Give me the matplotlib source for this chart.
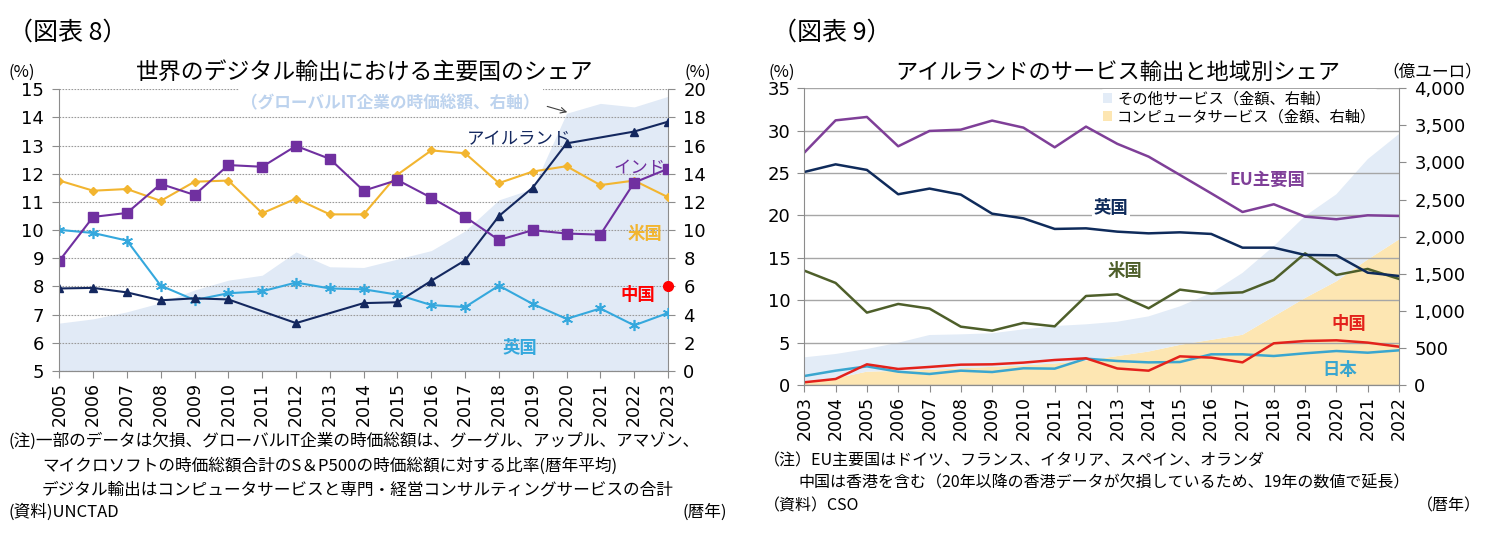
import numpy as np
import matplotlib
matplotlib.use('Agg')
import matplotlib.pyplot as plt
from matplotlib.patches import Patch, Rectangle
from matplotlib.ticker import FuncFormatter

plt.rcParams['font.family'] = ['Noto Sans CJK JP', 'DejaVu Sans']

# ---- 図表8 data (share of world digital exports, %) ----
years8 = [2005, 2006, 2007, 2008, 2009, 2010, 2011, 2012, 2013, 2014,
          2015, 2016, 2017, 2018, 2019, 2020, 2021, 2022, 2023]
india = [8.91, 10.47, 10.61, 11.64, 11.25, 12.31, 12.25, 12.99, 12.53, 11.40,
         11.78, 11.15, 10.47, 9.65, 10.00, 9.88, 9.84, 11.69, 12.18]
usa = [11.76, 11.40, 11.46, 11.04, 11.72, 11.76, 10.60, 11.12, 10.56, 10.56,
       11.97, 12.83, 12.73, 11.67, 12.08, 12.27, 11.60, 11.76, 11.17]
uk = [10.01, 9.90, 9.63, 8.03, 7.52, 7.76, 7.83, 8.14, 7.93, 7.90,
      7.71, 7.34, 7.27, 8.03, 7.38, 6.85, 7.22, 6.62, 7.06]
ireland = [7.93, 7.95, 7.79, 7.51, 7.58, 7.54, np.nan, 6.70, np.nan, 7.41,
           7.44, 8.20, 8.93, 10.50, 11.51, 13.08, np.nan, 13.50, 13.85]
china_year = [2023]
china = [8.03]
# global IT market cap ratio (right axis)
it_cap = [3.4, 3.7, 4.2, 4.85, 5.75, 6.45, 6.8, 8.45, 7.4, 7.35,
          7.95, 8.55, 9.95, 12.15, 12.95, 18.3, 19.0, 18.75, 19.5]

# ---- 図表9 data (Ireland services exports) ----
years9 = [2003, 2004, 2005, 2006, 2007, 2008, 2009, 2010, 2011, 2012,
          2013, 2014, 2015, 2016, 2017, 2018, 2019, 2020, 2021, 2022]
eu = [27.41, 31.22, 31.62, 28.16, 29.97, 30.12, 31.19, 30.36, 28.04, 30.48,
      28.45, 26.94, 24.78, 22.61, 20.41, 21.32, 19.86, 19.55, 20.02, 19.94]
uk9 = [25.13, 26.03, 25.37, 22.50, 23.17, 22.46, 20.21, 19.66, 18.41, 18.48,
       18.09, 17.89, 18.01, 17.82, 16.20, 16.20, 15.34, 15.30, 13.25, 12.86]
us9 = [13.49, 12.04, 8.54, 9.56, 9.01, 6.88, 6.41, 7.32, 6.92, 10.50,
       10.70, 9.05, 11.25, 10.78, 10.93, 12.39, 15.53, 12.98, 13.69, 12.51]
cn9 = [0.32, 0.71, 2.44, 1.89, 2.13, 2.40, 2.44, 2.64, 2.95, 3.15,
       1.95, 1.69, 3.38, 3.23, 2.67, 4.92, 5.19, 5.27, 5.00, 4.52]
jp9 = [1.06, 1.69, 2.20, 1.57, 1.30, 1.69, 1.53, 1.97, 1.93, 3.11,
       2.83, 2.67, 2.71, 3.62, 3.62, 3.42, 3.74, 4.01, 3.81, 4.09]
# amounts (億ユーロ, right axis)
computer = [50, 90, 180, 190, 205, 225, 245, 265, 290, 330,
            390, 451, 541, 609, 677, 925, 1173, 1398, 1691, 1962]
other = [323, 328, 305, 380, 469, 458, 452, 485, 505, 488,
         463, 474, 519, 631, 834, 947, 1105, 1173, 1353, 1421]

GRID = '#A6A6A6'
SPINE = '#8C8C8C'
W, H = 1487, 552


def fx(px):
    return px / W


def fy(py):
    return 1 - py / H


fig = plt.figure(figsize=(W / 100, H / 100), dpi=100)

# ================= left chart =================
ax1 = fig.add_axes([fx(59.3), fy(371), (668 - 59.3) / W, (371 - 89.3) / H])
ax1r = ax1.twinx()
ax1.set_zorder(2)
ax1r.set_zorder(1)
ax1.patch.set_visible(False)

ax1r.fill_between(years8, 0, it_cap, color='#E1EAF6', linewidth=0)
ax1r.set_ylim(0, 20)
ax1r.set_yticks(range(0, 21, 2))

ax1.set_xlim(2005, 2023)
ax1.set_ylim(5, 15)
ax1.set_yticks(range(5, 16))
ax1.set_xticks(years8)
ax1.set_xticklabels([str(y) for y in years8], rotation=90)
ax1.yaxis.grid(True, color='#9A9A9A', linestyle=(0, (1.5, 1.2)), linewidth=0.8)
ax1.set_axisbelow(True)

yrs = np.array(years8)
ire = np.array(ireland)
m = ~np.isnan(ire)
ax1.plot(years8, usa, color='#F2B530', lw=1.5, marker='D', ms=4.5)
ax1.plot(years8, uk, color='#35A8DD', lw=1.5, marker=(6, 2, 0), ms=8, mew=1.2)
ax1.plot(yrs[m], ire[m], color='#14285F', lw=1.5, marker='^', ms=6)
ax1.plot(years8, india, color='#7030A0', lw=1.5, marker='s', ms=7.5)
ax1.plot(china_year, china, color='#FF0000', marker='o', ms=7, lw=0, clip_on=False)

# white gap in the top gridline behind the annotation
ax1.add_patch(Rectangle((2010.3, 14.88), 9.0, 0.24, facecolor='white',
                        edgecolor='none', zorder=1.8, clip_on=False))
ax1.text(2014.8, 14.5, '（グローバルIT企業の時価総額、右軸）', color='#BDD3EE',
         fontsize=12, fontweight='bold', ha='center', va='center', zorder=3)
ax1.annotate('', xy=(2020.1, 14.16), xytext=(2019.35, 14.42),
             arrowprops=dict(arrowstyle='->', color='#404040', lw=0.8))

ax1.text(2018.58, 13.23, 'アイルランド', color='#14285F', fontsize=12.5, ha='center', va='center')
ax1.text(2022.17, 12.2, 'インド', color='#7030A0', fontsize=12.5, ha='center', va='center')
ax1.text(2022.32, 9.86, '米国', color='#F2B530', fontsize=12.5, fontweight='bold', ha='center', va='center')
ax1.text(2022.11, 7.70, '中国', color='#FF0000', fontsize=12.5, fontweight='bold', ha='center', va='center')
ax1.text(2018.61, 5.82, '英国', color='#35A8DD', fontsize=12.5, fontweight='bold', ha='center', va='center')

for a in (ax1, ax1r):
    a.spines['top'].set_visible(False)
    for s in ('left', 'right', 'bottom'):
        a.spines[s].set_color(SPINE)
    a.tick_params(colors=SPINE, labelcolor='black', length=5, direction='out')
ax1.spines['right'].set_visible(False)
ax1r.spines['left'].set_visible(False)
ax1.tick_params(axis='y', labelsize=13, pad=6)
ax1.tick_params(axis='x', labelsize=12.5, pad=3)
ax1r.tick_params(axis='y', labelsize=13, pad=6)
for lab in ax1.get_xticklabels() + ax1.get_yticklabels() + ax1r.get_yticklabels():
    lab.set_family('DejaVu Sans')

# ================= right chart =================
ax2 = fig.add_axes([fx(804.3), fy(385), (1399 - 804.3) / W, (385 - 88.3) / H])
ax2r = ax2.twinx()
ax2.set_zorder(2)
ax2r.set_zorder(1)
ax2.patch.set_visible(False)

ax2r.stackplot(years9, computer, other, colors=['#FDE6B2', '#E3ECF7'], linewidth=0)
ax2r.set_ylim(0, 4000)
ax2r.set_yticks(range(0, 4001, 500))
ax2r.yaxis.set_major_formatter(FuncFormatter(lambda v, p: f'{int(v):,}'))

ax2.set_xlim(2003, 2022)
ax2.set_ylim(0, 35)
ax2.set_yticks(range(0, 36, 5))
ax2.set_xticks(years9)
ax2.set_xticklabels([str(y) for y in years9], rotation=90)
ax2.yaxis.grid(True, color=GRID, linestyle='-', linewidth=1.0)
ax2.set_axisbelow(True)

ax2.plot(years9, jp9, color='#3AA6CF', lw=1.8)
ax2.plot(years9, cn9, color='#E3221B', lw=1.8)
ax2.plot(years9, us9, color='#4E5F2A', lw=1.8)
ax2.plot(years9, uk9, color='#0F2B5B', lw=1.8)
ax2.plot(years9, eu, color='#7F3F98', lw=1.8)

wb = dict(facecolor='white', edgecolor='none', pad=1.5)
ax2.text(2017.79, 24.18, 'EU主要国', color='#7F3F98', fontsize=12.5, fontweight='bold',
         ha='center', va='center', bbox=wb)
ax2.text(2012.80, 20.88, '英国', color='#0F2B5B', fontsize=12.5, fontweight='bold',
         ha='center', va='center', bbox=wb)
ax2.text(2013.25, 13.45, '米国', color='#4E5F2A', fontsize=12.5, fontweight='bold',
         ha='center', va='center', bbox=wb)
ax2.text(2020.41, 7.22, '中国', color='#E3221B', fontsize=12.5, fontweight='bold', ha='center', va='center')
ax2.text(2020.12, 1.78, '日本', color='#3AA6CF', fontsize=12.5, fontweight='bold', ha='center', va='center')

handles = [Patch(facecolor='#E3ECF7', edgecolor='none'),
           Patch(facecolor='#FDE6B2', edgecolor='none')]
ax2.legend(handles, ['その他サービス（金額、右軸）', 'コンピュータサービス（金額、右軸）'],
           loc='upper left', bbox_to_anchor=(fx(1101), fy(89)), bbox_transform=fig.transFigure,
           fontsize=11, frameon=True, facecolor='white', edgecolor='none', framealpha=1,
           handlelength=0.6, handleheight=0.6, handletextpad=0.35, labelspacing=0.05,
           borderpad=0.1, borderaxespad=0)

for a in (ax2, ax2r):
    a.spines['top'].set_visible(False)
    for s in ('left', 'right', 'bottom'):
        a.spines[s].set_color(SPINE)
    a.tick_params(colors=SPINE, labelcolor='black', length=5, direction='out')
ax2.spines['right'].set_visible(False)
ax2r.spines['left'].set_visible(False)
ax2.tick_params(axis='y', labelsize=13, pad=5)
ax2.tick_params(axis='x', labelsize=12.5, pad=3)
ax2r.tick_params(axis='y', labelsize=13, pad=6)
for lab in ax2.get_xticklabels() + ax2.get_yticklabels() + ax2r.get_yticklabels():
    lab.set_family('DejaVu Sans')

# ================= texts =================
fig.text(fx(8), fy(33), '（図表 8）', fontsize=18, va='center', ha='left')
fig.text(fx(772), fy(33), '（図表 9）', fontsize=18, va='center', ha='left')
fig.text(fx(365), fy(72), '世界のデジタル輸出における主要国のシェア', fontsize=16.5, ha='center', va='center')
fig.text(fx(1118), fy(72), 'アイルランドのサービス輸出と地域別シェア', fontsize=16, ha='center', va='center')
fig.text(fx(8), fy(72), '(%)', fontsize=12, va='center')
fig.text(fx(684), fy(72), '(%)', fontsize=12, va='center')
fig.text(fx(768), fy(72), '(%)', fontsize=12, va='center')
fig.text(fx(1482), fy(72), '（億ユーロ）', fontsize=12, va='center', ha='right')

note_kw = dict(fontsize=12, va='center', ha='left')
fig.text(fx(8), fy(441), '(注)一部のデータは欠損、グローバルIT企業の時価総額は、グーグル、アップル、アマゾン、', **note_kw)
fig.text(fx(42), fy(466), 'マイクロソフトの時価総額合計のS＆P500の時価総額に対する比率(暦年平均)', **note_kw)
fig.text(fx(42), fy(490), 'デジタル輸出はコンピュータサービスと専門・経営コンサルティングサービスの合計', **note_kw)
fig.text(fx(8), fy(512), '(資料)UNCTAD', **note_kw)
fig.text(fx(727), fy(512), '(暦年)', fontsize=12, va='center', ha='right')

note_kw2 = dict(fontsize=11.5, va='center', ha='left')
fig.text(fx(764), fy(461), '（注）EU主要国はドイツ、フランス、イタリア、スペイン、オランダ', **note_kw2)
fig.text(fx(798), fy(483), '中国は香港を含む（20年以降の香港データが欠損しているため、19年の数値で延長）', **note_kw2)
fig.text(fx(764), fy(506), '（資料）CSO', **note_kw2)
fig.text(fx(1481), fy(506), '（暦年）', fontsize=11.5, va='center', ha='right')

fig.savefig('out.png', dpi=100)
